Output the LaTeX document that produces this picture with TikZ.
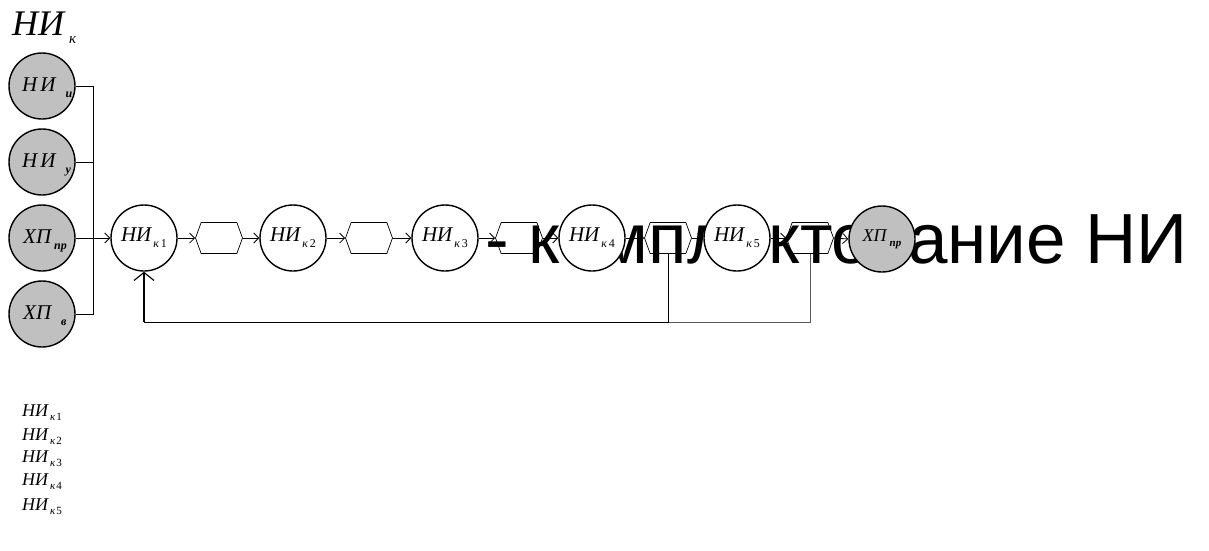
\documentclass[tikz,border=0pt]{standalone}
\usepackage{fontspec}
\setmainfont{Liberation Serif}
\newfontfamily\bigsans{Liberation Sans}
\usetikzlibrary{arrows.meta,shapes.symbols}
% #1 main size, #2 main text, #3 sub size, #4 drop, #5 sub text, #6 kern
\newcommand{\nlab}[6]{{\fontsize{#1pt}{#1pt}\selectfont\itshape #2}\kern#6pt\raisebox{-#4pt}{\fontsize{#3pt}{#3pt}\selectfont\itshape #5}}
\definecolor{silv}{RGB}{192,192,192}
\begin{document}
\begin{tikzpicture}[x=1pt,y=-1pt,
  circ/.style={circle,draw,line width=1.4pt,minimum size=66pt,inner sep=0pt,fill=white},
  gcirc/.style={circ,fill=silv},
  lab/.style={anchor=base west,inner sep=0pt},
  hexs/.style={signal,signal to=west and east,draw,line width=0.7pt,minimum width=47pt,minimum height=31pt,inner sep=0pt,signal pointer angle=140},
  conn/.style={line width=0.8pt},
  arr/.style={conn,-{Straight Barb[length=5pt,width=10pt]}},
  bigarr/.style={line width=1.2pt,-{Straight Barb[length=8pt,width=20pt]}}]
\useasboundingbox (0,0) rectangle (1209,550);
% big title text (drawn first, circles cover it)
\node[lab,font=\bigsans\fontsize{71pt}{71pt}\selectfont] (title) at (485,263) {- комплектование НИ};
% top-left label
\node[lab] (toplab) at (12,35) {\nlab{36}{НИ}{15}{8}{к}{5}};
% left gray circles
\node[gcirc] (gi) at (42,86) {};
\node[gcirc] (gu) at (42,162) {};
\node[gcirc] (gpr) at (42,238) {};
\node[gcirc] (gv) at (42,314) {};
\node[lab] (gi-l) at (22,91) {\nlab{21}{Н\kern3pt И}{12}{6}{\bfseries и}{10}};
\node[lab] (gu-l) at (22,167) {\nlab{21}{Н\kern3pt И}{12}{6}{\bfseries у}{10}};
\node[lab] (gpr-l) at (23,243) {\nlab{21}{ХП}{12}{6}{\bfseries пр}{3}};
\node[lab] (gv-l) at (23,319) {\nlab{21}{ХП}{12}{6}{\bfseries в}{10}};
% hexagons
\node[hexs] (h1) at (219,238) {};
\node[hexs] (h2) at (369,238) {};
\node[hexs] (h3) at (519,238) {};
\node[hexs] (h4) at (668,238) {};
\node[hexs] (h5) at (810,238) {};
% chain circles
\node[circ] (k1) at (144,238) {\nlab{21}{НИ}{12}{6}{к\kern2pt\upshape 1}{2}};
\node[circ] (k2) at (293,238) {\nlab{21}{НИ}{12}{6}{к\kern2pt\upshape 2}{2}};
\node[circ] (k3) at (445,238) {\nlab{21}{НИ}{12}{6}{к\kern2pt\upshape 3}{2}};
\node[circ] (k4) at (592,238) {\nlab{21}{НИ}{12}{6}{к\kern2pt\upshape 4}{2}};
\node[circ] (k5) at (737,238) {\nlab{21}{НИ}{12}{6}{к\kern2pt\upshape 5}{2}};
\node[gcirc] (xpr) at (882,239) {\nlab{18}{ХП}{11}{5}{\bfseries пр}{3}};
% bus
\coordinate (b1) at (93,86);
\coordinate (b2) at (93,162);
\coordinate (b3) at (93,238);
\coordinate (b4) at (93,314);
\draw[conn] (gi.east) -- (b1) -- (b4) -- (gv.east);
\draw[conn] (gu.east) -- (b2);
\draw[conn] (gpr.east) -- (b3);
\draw[arr] (b3) -- (k1.west);
% chain arrows
\draw[arr] (k1.east) -- (h1.west);
\draw[arr] (h1.east) -- (k2.west);
\draw[arr] (k2.east) -- (h2.west);
\draw[arr] (h2.east) -- (k3.west);
\draw[arr] (k3.east) -- (h3.west);
\draw[arr] (h3.east) -- (k4.west);
\draw[arr] (k4.east) -- (h4.west);
\draw[arr] (h4.east) -- (k5.west);
\draw[arr] (k5.east) -- (h5.west);
\draw[arr] (h5.east) -- (xpr.west);
% feedback
\coordinate (f1) at (668,322);
\coordinate (f2) at (144,322);
\draw[conn,black!65] (h5.south) |- (f1);
\draw[conn] (h4.south) -- (f1) -- (f2);
\draw[bigarr] (f2) -- (k1.south);
% bottom list
\node[lab] (l1) at (22,416) {\nlab{18}{НИ}{11}{4}{к\kern1pt\upshape 1}{2}};
\node[lab] (l2) at (22,440) {\nlab{18}{НИ}{11}{4}{к\kern1pt\upshape 2}{2}};
\node[lab] (l3) at (22,462) {\nlab{18}{НИ}{11}{4}{к\kern1pt\upshape 3}{2}};
\node[lab] (l4) at (22,485) {\nlab{18}{НИ}{11}{4}{к\kern1pt\upshape 4}{2}};
\node[lab] (l5) at (22,510) {\nlab{18}{НИ}{11}{4}{к\kern1pt\upshape 5}{2}};
\end{tikzpicture}
\end{document}
